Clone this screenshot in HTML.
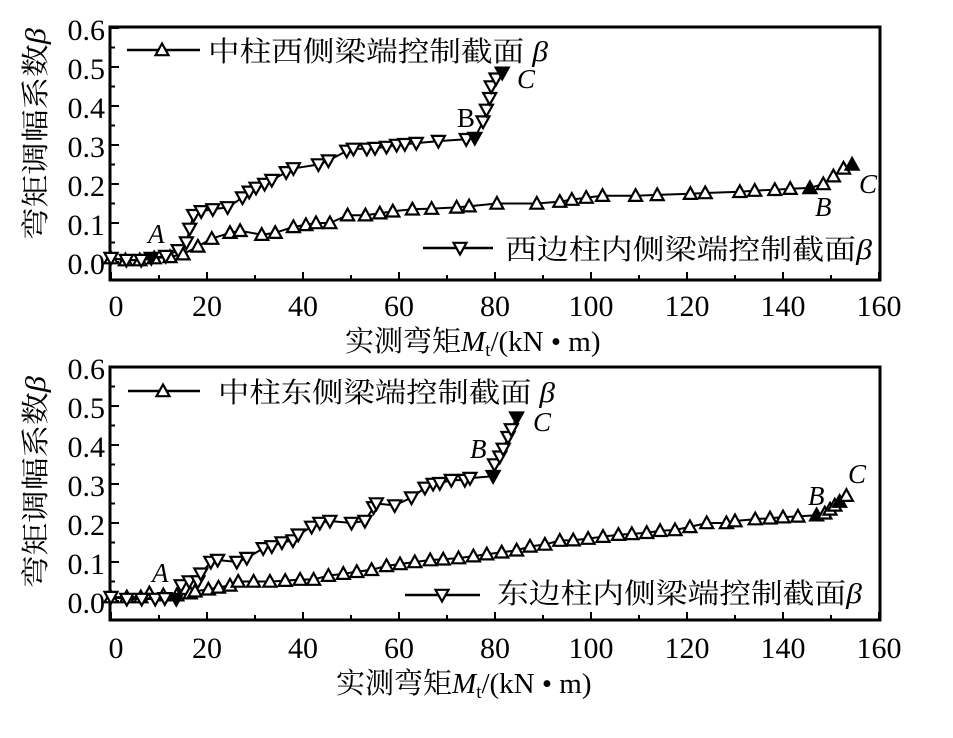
<!DOCTYPE html>
<html><head><meta charset="utf-8">
<style>
html,body{margin:0;padding:0;background:#fff;}
svg{display:block;}
text{font-family:"Liberation Serif","Noto Serif CJK SC","Noto Sans CJK SC",serif;fill:#000;}
</style></head>
<body>
<svg id="s" width="953" height="738" viewBox="0 0 953 738" xmlns="http://www.w3.org/2000/svg">
<rect x="110" y="27" width="770" height="253" fill="none" stroke="#000" stroke-width="3"/>
<rect x="110" y="367" width="770" height="253" fill="none" stroke="#000" stroke-width="3"/>
<g font-size="30">
<text x="105" y="40" text-anchor="end">0.6</text>
<text x="105" y="79" text-anchor="end">0.5</text>
<text x="105" y="118" text-anchor="end">0.4</text>
<text x="105" y="157" text-anchor="end">0.3</text>
<text x="105" y="196" text-anchor="end">0.2</text>
<text x="105" y="235" text-anchor="end">0.1</text>
<text x="105" y="274" text-anchor="end">0.0</text>
<text x="105" y="379" text-anchor="end">0.6</text>
<text x="105" y="418" text-anchor="end">0.5</text>
<text x="105" y="457" text-anchor="end">0.4</text>
<text x="105" y="496" text-anchor="end">0.3</text>
<text x="105" y="535" text-anchor="end">0.2</text>
<text x="105" y="574" text-anchor="end">0.1</text>
<text x="105" y="613" text-anchor="end">0.0</text>
</g>
<g font-size="30" text-anchor="middle">
<text x="116" y="316">0</text><text x="207" y="316">20</text><text x="303" y="316">40</text><text x="399" y="316">60</text><text x="495" y="316">80</text><text x="591" y="316">100</text><text x="687" y="316">120</text><text x="783" y="316">140</text><text x="879" y="316">160</text>
<text x="116" y="658">0</text><text x="207" y="658">20</text><text x="303" y="658">40</text><text x="399" y="658">60</text><text x="495" y="658">80</text><text x="591" y="658">100</text><text x="687" y="658">120</text><text x="783" y="658">140</text><text x="879" y="658">160</text>
</g>
<text x="345" y="351" font-size="29">实测弯矩<tspan font-style="italic">M</tspan><tspan font-size="19" dy="5">t</tspan><tspan dy="-5">/(kN • m)</tspan></text>
<text x="336" y="693" font-size="29">实测弯矩<tspan font-style="italic">M</tspan><tspan font-size="19" dy="5">t</tspan><tspan dy="-5">/(kN • m)</tspan></text>
<text transform="translate(45,240) rotate(-90)" font-size="28" textLength="212" lengthAdjust="spacingAndGlyphs">弯矩调幅系数<tspan font-style="italic">β</tspan></text>
<text transform="translate(45,588) rotate(-90)" font-size="28" textLength="212" lengthAdjust="spacingAndGlyphs">弯矩调幅系数<tspan font-style="italic">β</tspan></text>
<g stroke="#000" stroke-width="2.5">
<line x1="127" y1="50" x2="200" y2="50"/>
<line x1="423" y1="248" x2="493" y2="248"/>
<line x1="128" y1="391" x2="200" y2="391"/>
<line x1="405" y1="595" x2="480" y2="595"/>
</g>
<g font-size="28">
<text x="208" y="61" textLength="340" lengthAdjust="spacingAndGlyphs">中柱西侧梁端控制截面 <tspan font-style="italic">β</tspan></text>
<text x="505" y="259" textLength="367" lengthAdjust="spacingAndGlyphs">西边柱内侧梁端控制截面<tspan font-style="italic">β</tspan></text>
<text x="218" y="402" textLength="337" lengthAdjust="spacingAndGlyphs">中柱东侧梁端控制截面 <tspan font-style="italic">β</tspan></text>
<text x="497" y="603" textLength="365" lengthAdjust="spacingAndGlyphs">东边柱内侧梁端控制截面<tspan font-style="italic">β</tspan></text>
</g>
<g font-size="27">
<text x="148" y="243" font-style="italic">A</text>
<text x="457" y="127">B</text>
<text x="517" y="88" font-style="italic">C</text>
<text x="815" y="216" font-style="italic">B</text>
<text x="859" y="193" font-style="italic">C</text>
<text x="152" y="582" font-style="italic">A</text>
<text x="470" y="458" font-style="italic">B</text>
<text x="533" y="431" font-style="italic">C</text>
<text x="808" y="505" font-style="italic">B</text>
<text x="848" y="483" font-style="italic">C</text>
</g>
<g id="dyn"></g>
</svg>
<script>
var g=document.getElementById('dyn'),h='';
function X(m){return 111+4.8*m;}
function tri(x,y,up,fill){var s=6.5;var p=up?[[x,y-s],[x-s,y+s*0.8],[x+s,y+s*0.8]]:[[x,y+s],[x-s,y-s*0.8],[x+s,y-s*0.8]];
 return '<polygon points="'+p.map(function(a){return a[0].toFixed(1)+','+a[1].toFixed(1)}).join(' ')+'" fill="'+(fill?'#000':'#fff')+'" stroke="#000" stroke-width="2.2"/>';}
function series(pts,y0,up,filled){var d=pts.map(function(p){return X(p[0]).toFixed(1)+','+(y0-390*p[1]).toFixed(1)}).join(' ');
 h+='<polyline points="'+d+'" fill="none" stroke="#000" stroke-width="2"/>';
 pts.forEach(function(p,i){h+=tri(X(p[0]),y0-390*p[1],up,filled.indexOf(i)>=0);});}
var t='';
[[280,262],[620,601]].forEach(function(a){var yb=a[0],y0=a[1];
 for(var m=0;m<=160;m+=10){var x=X(m),L=(m%20==0)?8:5;t+='<line x1="'+x+'" y1="'+yb+'" x2="'+x+'" y2="'+(yb-L)+'" stroke="#000" stroke-width="2"/>';}
 for(var k=0;k<=12;k++){var y=y0-390*k*0.05,L=(k%2==0)?9:5;if(y<yb-1)t+='<line x1="110" y1="'+y+'" x2="'+(110+L)+'" y2="'+y+'" stroke="#000" stroke-width="2"/>';}
});
h+=t;
var s1=[[0,0.01],[3,0.005],[6,0.005],[9,0.01],[12.3,0.013],[15,0.02],[18.1,0.04],[21,0.06],[24.8,0.075],[26.9,0.08],[31.4,0.07],[34.2,0.075],[38,0.09],[40.6,0.095],[42.7,0.1],[45.6,0.1],[49.3,0.12],[53,0.12],[56,0.125],[58.7,0.13],[62.8,0.135],[66.8,0.137],[72,0.14],[74.6,0.143],[80.4,0.15],[88.7,0.15],[93.5,0.155],[96,0.16],[99,0.165],[102.4,0.17],[109.3,0.17],[113.8,0.172],[120.7,0.175],[123.8,0.177],[131,0.18],[134.1,0.183],[138.3,0.185],[141.5,0.188],[145.6,0.19],[148.4,0.2],[150.5,0.22],[152.6,0.24],[154.4,0.25]];
series(s1,262,true,[38,42]);
var s2=[[0,0.01],[3.2,0.005],[6.3,0.005],[8.4,0.01],[11.4,0.015],[14,0.03],[15.7,0.05],[16.4,0.085],[17.2,0.12],[18.8,0.13],[21.2,0.135],[24.3,0.14],[27.4,0.165],[28.8,0.18],[30.2,0.19],[32,0.2],[33.5,0.21],[36.5,0.23],[38,0.24],[43.2,0.25],[45.3,0.26],[49.1,0.285],[50.5,0.29],[53.3,0.29],[55,0.292],[57.4,0.295],[59.5,0.3],[61.2,0.302],[63.6,0.305],[68.2,0.31],[74,0.315],[75.8,0.318],[77.5,0.36],[78.2,0.39],[78.9,0.42],[79.2,0.45],[80.2,0.47],[81.5,0.485]];
series(s2,262,false,[3,31,37]);
var s3=[[0,0.01],[3.3,0.01],[6.2,0.01],[8,0.02],[10.9,0.015],[13.7,0.015],[16.5,0.02],[17.5,0.025],[20.3,0.03],[22.4,0.035],[24.8,0.04],[26.5,0.05],[29.7,0.05],[33.1,0.05],[36.3,0.052],[39.4,0.055],[42.2,0.055],[45.3,0.065],[48.4,0.07],[51.2,0.075],[54.3,0.08],[57.4,0.09],[60.2,0.095],[63.3,0.1],[66.5,0.105],[69.2,0.107],[72.4,0.11],[75.5,0.115],[78.3,0.12],[81.4,0.125],[84.5,0.13],[87.3,0.14],[90.4,0.145],[93.5,0.155],[96.3,0.156],[99.4,0.16],[102.5,0.165],[105.7,0.17],[108.5,0.172],[111.6,0.175],[114.4,0.18],[117.5,0.182],[120.6,0.19],[124.1,0.2],[128.2,0.2],[130,0.205],[134.2,0.21],[137.3,0.212],[140,0.215],[143.1,0.217],[147,0.22],[148.7,0.225],[149.8,0.235],[150.8,0.245],[151.8,0.255],[153.2,0.27]];
series(s3,601,true,[50,54]);
var s4=[[0,0.01],[3.3,0.005],[6.4,0.005],[9.2,0.005],[11.2,0.007],[13.6,0.005],[14.6,0.04],[16.3,0.05],[18.1,0.05],[18.7,0.07],[20.8,0.1],[22.2,0.105],[26.2,0.1],[28.3,0.11],[31.7,0.135],[33.5,0.14],[35.6,0.15],[37.9,0.155],[39,0.17],[41.8,0.19],[43.5,0.2],[45.6,0.205],[50.1,0.2],[52.9,0.205],[54.7,0.24],[55.3,0.25],[59.1,0.245],[62.6,0.265],[65.4,0.29],[67.1,0.3],[68.5,0.302],[70.9,0.31],[73.7,0.31],[74.8,0.315],[79.6,0.32],[79.9,0.35],[81,0.37],[81.7,0.39],[82.7,0.42],[83.4,0.44],[84.5,0.47]];
series(s4,601,false,[5,34,40]);
h+=tri(162,50,true,false)+tri(460,248,false,false)+tri(163,391,true,false)+tri(442,595,false,false);
g.innerHTML=h;
</script>
</body></html>
